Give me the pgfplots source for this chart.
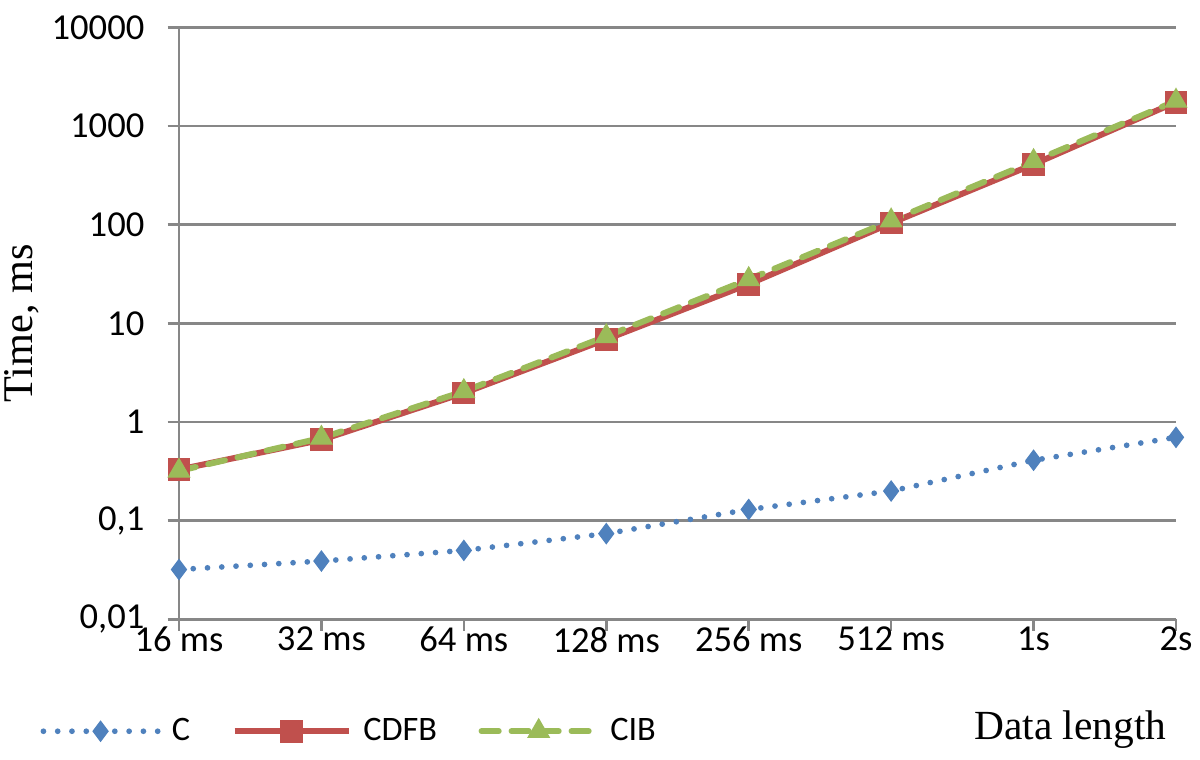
\documentclass[border=0pt]{standalone}
\usepackage{fontspec}
\setmainfont{Carlito}
\newfontfamily\tnr{Liberation Serif}
\usepackage{pgfplots}
\pgfplotsset{compat=1.18}

\definecolor{cblue}{HTML}{4F81BD}
\definecolor{cred}{HTML}{C0504D}
\definecolor{cgreen}{HTML}{9BBB59}
\definecolor{gridgray}{HTML}{878787}

\begin{document}
\begin{tikzpicture}
\path[use as bounding box] (-62.65pt,-49pt) rectangle (357.4pt,216.8pt);
\begin{axis}[
    scale only axis,
    width=349pt, height=207.2pt,
    ymode=log,
    ymin=0.01, ymax=10000,
    xmin=0, xmax=7,
    ytick={0.01,0.1,1,10,100,1000,10000},
    yticklabels={{0,01},{0,1},1,10,100,1000,10000},
    yminorticks=false,
    xtick={0,...,7},
    xticklabels={16 ms,32 ms,64 ms,128 ms,256 ms,512 ms,1s,2s},
    axis x line*=bottom,
    axis y line*=left,
    axis line style={gridgray, line width=0.9pt},
    tick align=outside,
    major tick length=4pt,
    tick style={gridgray, line width=0.9pt},
    ymajorgrids,
    grid style={gridgray, line width=0.9pt},
    every tick label/.append style={font=\fontsize{12.8}{15}\selectfont, text=black},
    yticklabel style={xshift=-4.6pt},
    xticklabel style={yshift=4.8pt},
    /pgf/number format/assume math mode=true,
    ylabel={\tnr\fontsize{14.8}{17}\selectfont Time, ms},
    ylabel style={at={(axis description cs:-0.1575,0.5)}, anchor=center},
    clip=false,
    legend columns=3,
    legend style={at={(rel axis cs:-0.1394,-0.189)}, anchor=west, draw=none,
        font=\fontsize{12}{14}\selectfont,
        /tikz/every odd column/.append style={column sep=2pt},
        /tikz/every even column/.append style={column sep=12.5pt},
        inner sep=0pt, row sep=0pt},
    legend cell align=left,
    legend image code/.code={\draw[mark repeat=2,mark phase=2,#1] plot coordinates {(0pt,0pt)(20pt,0pt)(40pt,0pt)};},
]
\addplot[color=cblue, line width=2pt, line cap=round, dash pattern=on 0pt off 5pt,
    mark=diamond*, mark size=3.5pt, mark options={solid, fill=cblue, draw=cblue, line width=0.4pt}] coordinates {
    (0,0.032) (1,0.039) (2,0.050) (3,0.074) (4,0.13) (5,0.20) (6,0.41) (7,0.70)
};
\addlegendentry{C}
\addplot[color=cred, line width=2.1pt,
    mark=square*, mark size=3.8pt, mark options={solid, fill=cred, draw=cred, line width=0.4pt}] coordinates {
    (0,0.33) (1,0.66) (2,1.97) (3,6.9) (4,25) (5,104) (6,410) (7,1750)
};
\addlegendentry{CDFB}
\addplot[color=cgreen, line width=2.1pt, line cap=round, dash pattern=on 6pt off 4.5pt,
    mark=triangle*, mark size=4.3pt, mark options={solid, fill=cgreen, draw=cgreen, line width=0.4pt}] coordinates {
    (0,0.32) (1,0.69) (2,2.05) (3,7.4) (4,28) (5,110) (6,440) (7,1800)
};
\addlegendentry{CIB}
\node[font=\tnr\fontsize{14.5}{17}\selectfont] at (rel axis cs:0.894,-0.186) {Data length};
\end{axis}
\end{tikzpicture}
\end{document}
